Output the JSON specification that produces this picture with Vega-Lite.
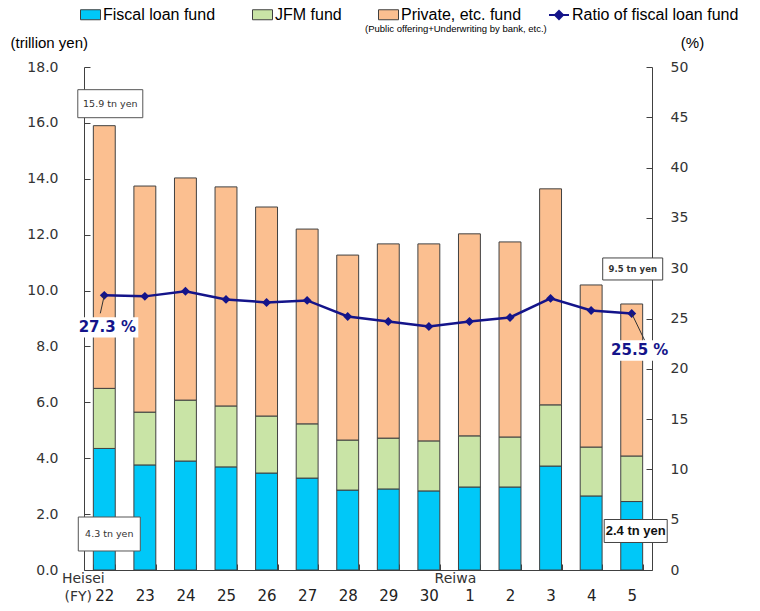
{
  "$schema": "https://vega.github.io/schema/vega-lite/v6.json",
  "width": 568,
  "height": 503,
  "autosize": "none",
  "padding": {"left": 84, "top": 67, "right": 108, "bottom": 41},
  "background": "white",
  "title": {"text": "(Public offering+Underwriting by bank, etc.)", "fontSize": 9.5, "font": "Liberation Sans", "fontWeight": "normal", "anchor": "start", "frame": "group", "dx": 281, "dy": 29, "offset": 0, "color": "#000"},
  "config": {
    "view": {"stroke": null},
    "axis": {"grid": false, "domainColor": "#404040", "tickColor": "#404040", "labelColor": "#333", "labelFont": "DejaVu Sans"},
    "legend": {"labelFont": "Liberation Sans", "labelFontSize": 16, "labelColor": "#000", "labelLimit": 400}
  },
  "data": {"values": [
    {"fy": "22", "fiscal": 4.35, "jfm": 2.15, "private": 9.4, "total": 15.9, "ratio": 27.3},
    {"fy": "23", "fiscal": 3.76, "jfm": 1.89, "private": 8.09, "total": 13.74, "ratio": 27.2},
    {"fy": "24", "fiscal": 3.9, "jfm": 2.18, "private": 7.95, "total": 14.03, "ratio": 27.7},
    {"fy": "25", "fiscal": 3.69, "jfm": 2.18, "private": 7.84, "total": 13.71, "ratio": 26.9},
    {"fy": "26", "fiscal": 3.47, "jfm": 2.04, "private": 7.48, "total": 12.99, "ratio": 26.6},
    {"fy": "27", "fiscal": 3.29, "jfm": 1.94, "private": 6.97, "total": 12.2, "ratio": 26.8},
    {"fy": "28", "fiscal": 2.86, "jfm": 1.79, "private": 6.62, "total": 11.27, "ratio": 25.2},
    {"fy": "29", "fiscal": 2.9, "jfm": 1.82, "private": 6.95, "total": 11.67, "ratio": 24.7},
    {"fy": "30", "fiscal": 2.83, "jfm": 1.79, "private": 7.05, "total": 11.67, "ratio": 24.2},
    {"fy": "1", "fiscal": 2.97, "jfm": 1.83, "private": 7.23, "total": 12.03, "ratio": 24.7},
    {"fy": "2", "fiscal": 2.97, "jfm": 1.79, "private": 6.98, "total": 11.74, "ratio": 25.1},
    {"fy": "3", "fiscal": 3.72, "jfm": 2.19, "private": 7.73, "total": 13.64, "ratio": 27.0},
    {"fy": "4", "fiscal": 2.65, "jfm": 1.75, "private": 5.8, "total": 10.2, "ratio": 25.8},
    {"fy": "5", "fiscal": 2.45, "jfm": 1.63, "private": 5.44, "total": 9.52, "ratio": 25.5}
  ]},
  "encoding": {
    "x": {"field": "fy", "type": "nominal", "sort": null,
      "scale": {"paddingInner": 0.46, "paddingOuter": 0.23},
      "axis": {"title": null, "labelAngle": 0, "labelFontSize": 15, "labelColor": "#222", "tickBand": "extent", "tickSize": -6, "labelPadding": 24, "domainColor": "#404040"}}
  },
  "layer": [
    {
      "layer": [
        {
          "transform": [{"fold": ["fiscal", "jfm", "private"], "as": ["series", "value"]}],
          "mark": {"type": "bar", "stroke": "#404040", "strokeWidth": 1},
          "encoding": {
            "y": {"field": "value", "type": "quantitative", "stack": "zero",
              "scale": {"domain": [0, 18], "nice": false},
              "axis": {"values": [0, 2, 4, 6, 8, 10, 12, 14, 16, 18], "format": ".1f", "labelFontSize": 14, "tickSize": -6, "labelPadding": 32,
                "title": "(trillion yen)", "titleAngle": 0, "titleX": -74, "titleY": -25, "titleAlign": "left", "titleBaseline": "middle", "titleFont": "Liberation Sans", "titleFontSize": 15, "titleFontWeight": "normal", "titleColor": "#000"}},
            "order": {"field": "series", "type": "nominal", "sort": "ascending"},
            "fill": {"field": "series", "type": "nominal",
              "scale": {"domain": ["fiscal", "jfm", "private"], "range": ["#00c8f8", "#c9e4a6", "#fbbf90"]},
              "legend": {"orient": "none", "legendX": -4, "legendY": -63, "direction": "horizontal", "title": null,
                "symbolType": "M-1,-0.5H1V0.5H-1Z", "symbolSize": 400, "symbolStrokeColor": "#404040", "symbolStrokeWidth": 1,
                "columnPadding": 34, "labelOffset": 2,
                "labelExpr": "datum.label == 'fiscal' ? 'Fiscal loan fund' : datum.label == 'jfm' ? 'JFM fund' : 'Private, etc. fund'"}}
          }
        },
        {
          "transform": [{"filter": "datum.fy == '22'"}],
          "mark": {"type": "point", "shape": "M-1,-0.431H1V0.431H-1Z", "filled": true, "fill": "white", "stroke": "#555", "strokeWidth": 1, "size": 4225, "opacity": 1, "xOffset": 6, "yOffset": -22},
          "encoding": {"y": {"field": "total", "type": "quantitative"}}
        },
        {
          "transform": [{"filter": "datum.fy == '22'"}],
          "mark": {"type": "text", "font": "DejaVu Sans", "fontSize": 9.5, "color": "#333", "dx": 6, "dy": -22},
          "encoding": {"y": {"field": "total", "type": "quantitative"}, "text": {"value": "15.9 tn yen"}}
        },
        {
          "transform": [{"filter": "datum.fy == '22'"}],
          "mark": {"type": "point", "shape": "M-1,-0.548H1V0.548H-1Z", "filled": true, "fill": "white", "stroke": "#555", "strokeWidth": 1, "size": 3844, "opacity": 1, "xOffset": 5, "yOffset": -36},
          "encoding": {"y": {"datum": 0, "type": "quantitative"}}
        },
        {
          "transform": [{"filter": "datum.fy == '22'"}],
          "mark": {"type": "text", "font": "DejaVu Sans", "fontSize": 9.5, "color": "#333", "dx": 5, "dy": -36},
          "encoding": {"y": {"datum": 0, "type": "quantitative"}, "text": {"value": "4.3 tn yen"}}
        },
        {
          "transform": [{"filter": "datum.fy == '5'"}],
          "mark": {"type": "point", "shape": "M-1,-0.367H1V0.367H-1Z", "filled": true, "fill": "white", "stroke": "#444", "strokeWidth": 1, "size": 3600, "opacity": 1, "xOffset": 1, "yOffset": -35},
          "encoding": {"y": {"field": "total", "type": "quantitative"}}
        },
        {
          "transform": [{"filter": "datum.fy == '5'"}],
          "mark": {"type": "text", "font": "DejaVu Sans", "fontSize": 8.5, "fontWeight": "bold", "color": "#333", "dx": 1, "dy": -35},
          "encoding": {"y": {"field": "total", "type": "quantitative"}, "text": {"value": "9.5 tn yen"}}
        },
        {
          "transform": [{"filter": "datum.fy == '5'"}],
          "mark": {"type": "point", "shape": "M-1,-0.365H1V0.365H-1Z", "filled": true, "fill": "white", "stroke": "#444", "strokeWidth": 1, "size": 3969, "opacity": 1, "xOffset": 4, "yOffset": -39},
          "encoding": {"y": {"datum": 0, "type": "quantitative"}}
        },
        {
          "transform": [{"filter": "datum.fy == '5'"}],
          "mark": {"type": "text", "font": "Liberation Sans", "fontSize": 13, "fontWeight": "bold", "color": "#111", "dx": 4, "dy": -39},
          "encoding": {"y": {"datum": 0, "type": "quantitative"}, "text": {"value": "2.4 tn yen"}}
        },
        {
          "transform": [{"filter": "datum.fy == '22'"}],
          "mark": {"type": "text", "font": "DejaVu Sans", "fontSize": 14, "color": "#333", "dx": -21, "dy": 9, "baseline": "middle"},
          "encoding": {"y": {"datum": 0, "type": "quantitative"}, "text": {"value": "Heisei"}}
        },
        {
          "transform": [{"filter": "datum.fy == '22'"}],
          "mark": {"type": "text", "font": "DejaVu Sans", "fontSize": 14, "color": "#333", "dx": -26, "dy": 27, "baseline": "middle"},
          "encoding": {"y": {"datum": 0, "type": "quantitative"}, "text": {"value": "(FY)"}}
        },
        {
          "transform": [{"filter": "datum.fy == '1'"}],
          "mark": {"type": "text", "font": "DejaVu Sans", "fontSize": 14, "color": "#333", "dx": -14, "dy": 9, "baseline": "middle"},
          "encoding": {"y": {"datum": 0, "type": "quantitative"}, "text": {"value": "Reiwa"}}
        }
      ]
    },
    {
      "layer": [
        {
          "mark": {"type": "line", "strokeWidth": 2.5},
          "encoding": {
            "y": {"field": "ratio", "type": "quantitative",
              "scale": {"domain": [0, 50], "nice": false},
              "axis": {"orient": "right", "values": [0, 5, 10, 15, 20, 25, 30, 35, 40, 45, 50], "labelFontSize": 14, "tickSize": -6, "labelPadding": 24,
                "title": "(%)", "titleAngle": 0, "titleX": 40, "titleY": -25, "titleAlign": "center", "titleBaseline": "middle", "titleFont": "Liberation Sans", "titleFontSize": 15, "titleFontWeight": "normal", "titleColor": "#000"}},
            "stroke": {"datum": "Ratio of fiscal loan fund", "type": "nominal",
              "scale": {"range": ["#14148a"]},
              "legend": {"orient": "none", "legendX": 464, "legendY": -63, "title": null,
                "symbolType": "M-1,0H1M0,-0.4L0.4,0L0,0.4L-0.4,0Z", "symbolSize": 400, "symbolStrokeWidth": 2, "symbolFillColor": "#14148a", "labelOffset": 2}}
          }
        },
        {
          "mark": {"type": "point", "shape": "diamond", "filled": true, "color": "#14148a", "size": 80, "opacity": 1},
          "encoding": {"y": {"field": "ratio", "type": "quantitative"}}
        },
        {
          "transform": [{"filter": "datum.fy == '22'"}],
          "mark": {"type": "rule", "stroke": "#333", "strokeWidth": 1, "x2Offset": -4, "y2Offset": 18},
          "encoding": {"y": {"field": "ratio", "type": "quantitative"}, "x2": {"field": "fy"}, "y2": {"field": "ratio"}}
        },
        {
          "transform": [{"filter": "datum.fy == '5'"}],
          "mark": {"type": "rule", "stroke": "#333", "strokeWidth": 1, "x2Offset": 13, "y2Offset": 27},
          "encoding": {"y": {"field": "ratio", "type": "quantitative"}, "x2": {"field": "fy"}, "y2": {"field": "ratio"}}
        },
        {
          "transform": [{"filter": "datum.fy == '22'"}],
          "mark": {"type": "point", "shape": "M-1,-0.33H1V0.33H-1Z", "filled": true, "fill": "white", "strokeWidth": 0, "size": 3844, "opacity": 1, "xOffset": 3, "yOffset": 32},
          "encoding": {"y": {"field": "ratio", "type": "quantitative"}}
        },
        {
          "transform": [{"filter": "datum.fy == '22'"}],
          "mark": {"type": "text", "font": "DejaVu Sans", "fontSize": 15, "fontWeight": "bold", "color": "#14148a", "dx": 3, "dy": 32},
          "encoding": {"y": {"field": "ratio", "type": "quantitative"}, "text": {"value": "27.3 %"}}
        },
        {
          "transform": [{"filter": "datum.fy == '5'"}],
          "mark": {"type": "point", "shape": "M-1,-0.33H1V0.33H-1Z", "filled": true, "fill": "white", "strokeWidth": 0, "size": 3844, "opacity": 1, "xOffset": 8, "yOffset": 37},
          "encoding": {"y": {"field": "ratio", "type": "quantitative"}}
        },
        {
          "transform": [{"filter": "datum.fy == '5'"}],
          "mark": {"type": "text", "font": "DejaVu Sans", "fontSize": 15, "fontWeight": "bold", "color": "#14148a", "dx": 8, "dy": 37},
          "encoding": {"y": {"field": "ratio", "type": "quantitative"}, "text": {"value": "25.5 %"}}
        }
      ]
    }
  ],
  "resolve": {"scale": {"y": "independent"}}
}
